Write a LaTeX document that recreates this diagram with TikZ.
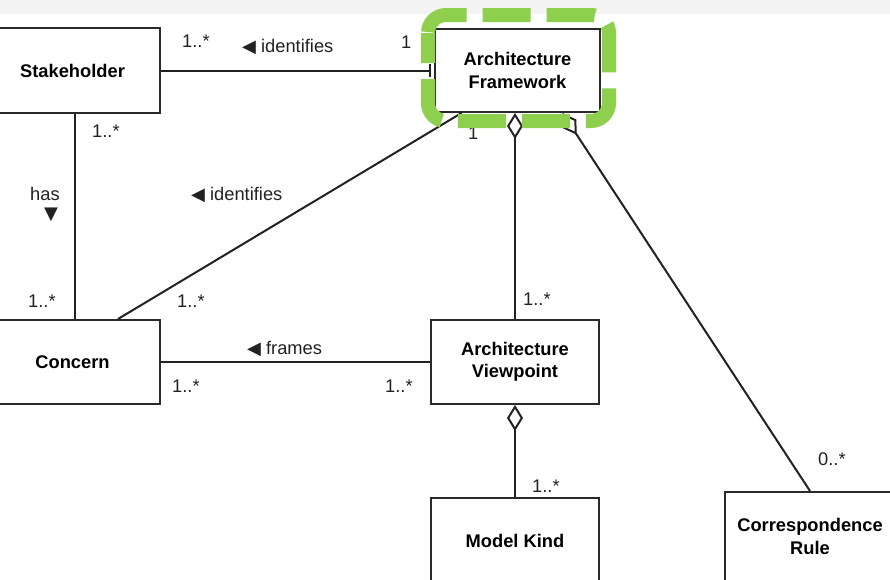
\documentclass[tikz,border=0pt]{standalone}
\usepackage{fontspec}
\setmainfont{Liberation Sans}
\newfontfamily\symfont{DejaVu Sans}
\usetikzlibrary{arrows.meta}

\definecolor{linecol}{HTML}{222222}
\definecolor{boxcol}{HTML}{2A2A2A}
\definecolor{bandcol}{HTML}{F4F4F4}
\definecolor{hlgreen}{HTML}{8FCF4E}

\newcommand{\ltri}{{\symfont\fontsize{18}{18}\selectfont ◀}}
\newcommand{\dtri}{{\symfont\fontsize{18}{18}\selectfont ▼}}

\tikzset{
  cls/.style={draw=boxcol, line width=2pt, fill=white, rectangle,
    align=center, inner sep=0pt, font=\fontsize{18.3}{22.5}\selectfont\bfseries},
  assoc/.style={draw=linecol, line width=2pt},
  aggr/.style={assoc, {Diamond[open,length=26pt,width=16pt]}-},
  lbl/.style={inner sep=0pt, anchor=base west, text=linecol,
    font=\fontsize{18.3}{22}\selectfont},
  highlight/.style={draw=hlgreen, line width=14pt, rounded corners=18pt,
    dash pattern=on 48pt off 16pt, dash phase=18pt}
}

\begin{document}
\begin{tikzpicture}[x=1pt, y=-1pt]
  \useasboundingbox (0,0) rectangle (890,579);
  \clip (0,0) rectangle (890,579);
  \fill[white] (0,0) rectangle (890,579);
  \fill[bandcol] (0,0) rectangle (890,14);

  % classes
  \node[cls, minimum width=175pt, minimum height=85pt] (sh) at (72.5,70.5) {Stakeholder};
  \node[cls, minimum width=165pt, minimum height=83pt] (af) at (517.5,70.5) {Architecture\\Framework};
  \node[cls, minimum width=175pt, minimum height=84pt] (cn) at (72.5,362) {Concern};
  \node[cls, minimum width=168pt, minimum height=84pt] (av) at (515,362) {Architecture\\Viewpoint};
  \node[cls, minimum width=168pt, minimum height=86pt] (mk) at (515,541) {Model Kind};
  \node[cls, minimum width=170pt, minimum height=89pt] (cr) at (810,536.5) {Correspondence\\Rule};

  % associations
  \draw[assoc, -{Bar[width=13pt]}, shorten >=3pt] (sh.east) -- (af.west);
  \draw[assoc] (sh.south -| 75,0) -- (cn.north -| 75,0);
  \draw[assoc] ([xshift=45.5pt]cn.north) -- ([xshift=-56pt]af.south);
  \draw[assoc] (cn.east) -- (av.west);
  \draw[aggr] (af.south -| av.north) -- (av.north);
  \draw[aggr] (av.south) -- (mk.north);
  \draw[aggr] ([xshift=45pt]af.south) -- (cr.north);

  % multiplicities and role names
  \node[lbl] (m1) at (182,47) {1..*};
  \node[lbl] (r1) at (242,52) {\ltri\ identifies};
  \node[lbl] (m2) at (401,48) {1};
  \node[lbl] (m3) at (92,137) {1..*};
  \node[lbl] (r2) at (30,200) {has};
  \node[inner sep=0pt, text=linecol] (r2t) at (51,215) {\dtri};
  \node[lbl] (m4) at (28,307) {1..*};
  \node[lbl] (r3) at (191,200) {\ltri\ identifies};
  \node[lbl] (m5) at (177,307) {1..*};
  \node[lbl] (m6) at (468,139) {1};
  \node[lbl] (r4) at (247,354) {\ltri\ frames};
  \node[lbl] (m7) at (172,392) {1..*};
  \node[lbl] (m8) at (385,392) {1..*};
  \node[lbl] (m9) at (523,305) {1..*};
  \node[lbl] (m10) at (532,492) {1..*};
  \node[lbl] (m11) at (818,465) {0..*};

  % green dashed highlight around the framework class
  \draw[highlight] (428,15) rectangle (609,121);
\end{tikzpicture}
\end{document}
